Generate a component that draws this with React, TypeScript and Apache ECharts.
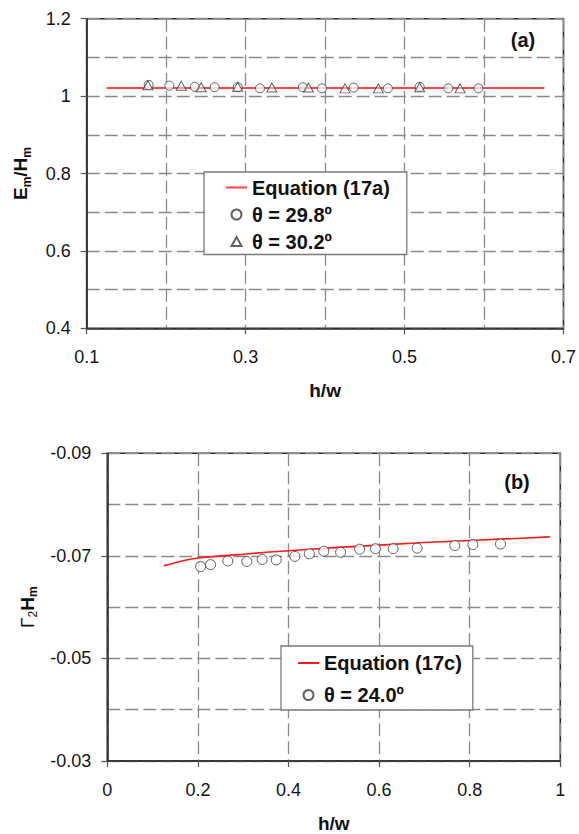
import React, { useEffect, useRef } from "react";
import * as echarts from "echarts";

// ---- Panel (a) data ----
const aLineX = [0.125, 0.676];
const aLineY = [1.021, 1.021];
const aCircleX = [0.178, 0.204, 0.236, 0.261, 0.290, 0.318, 0.372, 0.396, 0.436, 0.479, 0.519, 0.555, 0.593];
const aCircleY = [1.029, 1.027, 1.024, 1.023, 1.023, 1.020, 1.023, 1.020, 1.022, 1.020, 1.024, 1.020, 1.020];
const aTriX = [0.177, 0.219, 0.244, 0.290, 0.333, 0.379, 0.425, 0.467, 0.519, 0.570];
const aTriY = [1.028, 1.027, 1.023, 1.024, 1.022, 1.022, 1.020, 1.020, 1.023, 1.020];
const aXTicks = { min: 0.1, max: 0.7, step: 0.2 };
const aYTicks = { min: 0.4, max: 1.2, step: 0.2 };

// ---- Panel (b) data ----
const bLineX = [0.125, 0.14, 0.16, 0.18, 0.2, 0.25, 0.3, 0.35, 0.4, 0.5, 0.6, 0.7, 0.8, 0.9, 0.977];
const bLineY = [-0.0681, -0.0684, -0.0689, -0.0693, -0.0696, -0.0700, -0.0703, -0.0707, -0.0710, -0.0716, -0.0721, -0.0726, -0.0730, -0.0734, -0.0737];
const bCircleX = [0.206, 0.228, 0.266, 0.308, 0.342, 0.373, 0.414, 0.446, 0.478, 0.515, 0.557, 0.592, 0.631, 0.684, 0.767, 0.807, 0.868];
const bCircleY = [-0.0679, -0.0683, -0.0690, -0.0689, -0.0693, -0.0692, -0.0699, -0.0704, -0.0709, -0.0707, -0.0713, -0.0714, -0.0714, -0.0715, -0.0720, -0.0722, -0.0723];
const bXTicks = { min: 0, max: 1, step: 0.2 };
const bYTicks = { min: -0.09, max: -0.03, step: 0.02 };

const aNames = ["Equation (17a)", "θ = 29.8º", "θ = 30.2º"];
const bNames = ["Equation (17c)", "θ = 24.0º"];

const FONT = "'Liberation Sans', Arial, sans-serif";
const GRID_LINE = { color: "#8a8a8a", width: 1.3, type: [13, 5] as number[] };
const AXIS_COLOR = "#2a2a2a";
// legend triangle drawn inside a 21x10 box so it keeps its proportions
const TRI_ICON = "path://M0,0M21,10M10.5,0.6L15.5,9.4L5.5,9.4Z";

const fmt = (v: number) => String(parseFloat(v.toFixed(3)));
const zip = (xs: number[], ys: number[]) => xs.map((x, i) => [x, ys[i]]);

function valueAxis(gridIndex: number, t: { min: number; max: number; step: number }, extra: any) {
  return {
    type: "value",
    gridIndex,
    min: t.min,
    max: t.max,
    interval: t.step,
    axisLine: { show: true, onZero: false, lineStyle: { color: AXIS_COLOR, width: 1.6 } },
    axisTick: { show: true, inside: false, length: 6, lineStyle: { color: "#555", width: 1.2 } },
    axisLabel: { fontFamily: FONT, fontSize: 18, color: "#151515", formatter: fmt },
    splitLine: { show: true, lineStyle: GRID_LINE },
    ...extra,
  };
}

const subRich = {
  b: { fontFamily: FONT, fontSize: 19, fontWeight: "bold", color: "#111", lineHeight: 24 },
  s: { fontFamily: FONT, fontSize: 12, fontWeight: "bold", color: "#111", verticalAlign: "bottom" },
  g: { fontFamily: FONT, fontSize: 19, fontWeight: "normal", color: "#111", lineHeight: 24 },
  gs: { fontFamily: FONT, fontSize: 12, fontWeight: "normal", color: "#111", verticalAlign: "bottom" },
};

export default function App() {
  const ref = useRef<HTMLDivElement>(null);
  useEffect(() => {
    if (!ref.current) return;
    const chart = echarts.init(ref.current, undefined, { renderer: "svg" });
    const legendText = { fontFamily: FONT, fontSize: 20, fontWeight: "bold", color: "#111", lineHeight: 18 };
    const legendBase = {
      orient: "vertical",
      itemWidth: 21,
      itemHeight: 10,
      symbolKeepAspect: true,
      backgroundColor: "#fff",
      borderColor: "#7a7a7a",
      borderWidth: 1.3,
      borderRadius: 0,
      textStyle: legendText,
    };
    const option: any = {
      animation: false,
      backgroundColor: "#fff",
      textStyle: { fontFamily: FONT },
      grid: [
        { left: 86.7, top: 18.7, width: 477, height: 309.6, show: true, borderColor: AXIS_COLOR, borderWidth: 1.6, backgroundColor: "transparent" },
        { left: 107.3, top: 453.3, width: 453, height: 310, show: true, borderColor: AXIS_COLOR, borderWidth: 1.6, backgroundColor: "transparent" },
      ],
      xAxis: [
        valueAxis(0, aXTicks, {
          name: "h/w",
          nameLocation: "middle",
          nameGap: 53,
          nameTextStyle: { fontFamily: FONT, fontSize: 19, fontWeight: "bold", color: "#111" },
          axisLabel: { fontFamily: FONT, fontSize: 18, color: "#151515", formatter: fmt, margin: 20 },
          minorTick: { show: false, splitNumber: 2 },
          minorSplitLine: { show: true, lineStyle: GRID_LINE },
        }),
        valueAxis(1, bXTicks, {
          name: "h/w",
          nameLocation: "middle",
          nameGap: 53,
          nameTextStyle: { fontFamily: FONT, fontSize: 19, fontWeight: "bold", color: "#111" },
          axisLabel: { fontFamily: FONT, fontSize: 18, color: "#151515", formatter: fmt, margin: 20 },
        }),
      ],
      yAxis: [
        valueAxis(0, aYTicks, {
          name: "{b|E}{s|m}{b|/H}{s|m}",
          nameLocation: "middle",
          nameGap: 54,
          nameTextStyle: { rich: subRich },
          axisLabel: { fontFamily: FONT, fontSize: 18, color: "#151515", formatter: fmt, margin: 16 },
          minorTick: { show: false, splitNumber: 2 },
          minorSplitLine: { show: true, lineStyle: GRID_LINE },
        }),
        valueAxis(1, bYTicks, {
          inverse: true,
          name: "{g|Γ}{gs|2}{b|H}{s|m}",
          nameLocation: "middle",
          nameGap: 68,
          nameTextStyle: { rich: subRich },
          axisLabel: { fontFamily: FONT, fontSize: 18, color: "#151515", formatter: fmt, margin: 16 },
          minorTick: { show: false, splitNumber: 2 },
          minorSplitLine: { show: true, lineStyle: GRID_LINE },
        }),
      ],
      legend: [
        {
          ...legendBase,
          left: 204,
          top: 172,
          padding: [5.5, 17, 3, 21],
          itemGap: 7,
          data: [
            { name: aNames[0], itemStyle: { opacity: 0 } },
            { name: aNames[1] },
            { name: aNames[2], icon: TRI_ICON },
          ],
        },
        {
          ...legendBase,
          left: 281,
          top: 646,
          padding: [7, 11, 5, 16],
          itemGap: 12,
          data: [{ name: bNames[0], itemStyle: { opacity: 0 } }, { name: bNames[1] }],
        },
      ],
      series: [
        {
          name: aNames[0],
          type: "line",
          xAxisIndex: 0,
          yAxisIndex: 0,
          data: zip(aLineX, aLineY),
          symbol: "none",
          lineStyle: { color: "#ff4545", width: 2 },
          itemStyle: { color: "#ff4545" },
          z: 3,
        },
        {
          name: aNames[1],
          type: "scatter",
          xAxisIndex: 0,
          yAxisIndex: 0,
          data: zip(aCircleX, aCircleY),
          symbol: "circle",
          symbolSize: 9,
          itemStyle: { color: "#fff", borderColor: "#3a3a3a", borderWidth: 1 },
          z: 4,
        },
        {
          name: aNames[2],
          type: "scatter",
          xAxisIndex: 0,
          yAxisIndex: 0,
          data: zip(aTriX, aTriY),
          symbol: "triangle",
          symbolSize: [10, 9],
          itemStyle: { color: "rgba(255,255,255,0.6)", borderColor: "#3a3a3a", borderWidth: 1 },
          z: 5,
        },
        {
          name: bNames[0],
          type: "line",
          xAxisIndex: 1,
          yAxisIndex: 1,
          data: zip(bLineX, bLineY),
          symbol: "none",
          lineStyle: { color: "#ff1a1a", width: 1.6 },
          itemStyle: { color: "#ff1a1a" },
          z: 3,
        },
        {
          name: bNames[1],
          type: "scatter",
          xAxisIndex: 1,
          yAxisIndex: 1,
          data: zip(bCircleX, bCircleY),
          symbol: "circle",
          symbolSize: 10,
          itemStyle: { color: "#fff", borderColor: "#3a3a3a", borderWidth: 1 },
          z: 4,
        },
      ],
      graphic: [
        {
          type: "text",
          x: 523,
          y: 40,
          style: { text: "(a)", font: `bold 20px ${FONT}`, fill: "#111", align: "center", verticalAlign: "middle", textAlign: "center", textVerticalAlign: "middle" },
        },
        {
          type: "text",
          x: 517,
          y: 482,
          style: { text: "(b)", font: `bold 20px ${FONT}`, fill: "#111", align: "center", verticalAlign: "middle", textAlign: "center", textVerticalAlign: "middle" },
        },
      ],
    };
    chart.setOption(option);
    return () => chart.dispose();
  }, []);
  return <div ref={ref} style={{ position: "fixed", left: 0, top: 0, width: 579, height: 834 }} />;
}
